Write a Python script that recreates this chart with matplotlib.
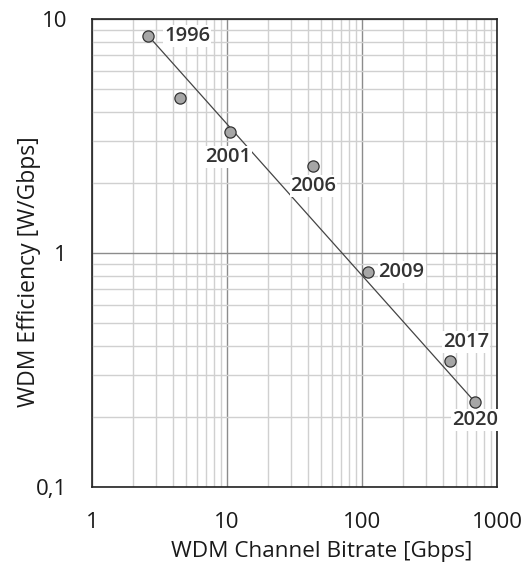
import matplotlib
matplotlib.use('Agg')
import matplotlib.pyplot as plt
from matplotlib.ticker import FixedLocator, FixedFormatter, LogLocator, NullFormatter

plt.rcParams['font.family'] = ['Open Sans', 'DejaVu Sans']

# data
bitrate = [2.6, 4.5, 10.5, 43, 110, 450, 690]
efficiency = [8.5, 4.6, 3.3, 2.36, 0.83, 0.345, 0.23]
years = ['1996', '', '2001', '2006', '2009', '2017', '2020']
# label offsets in pixels (dx, dy) and alignment
label_pos = [(16, 0, 'left'), None, (-2, -25, 'center'),
             (1, -20, 'center'), (11, 0, 'left'),
             (16, 19, 'center'), (0, -18, 'center')]

x_ticks = [1, 10, 100, 1000]
x_labels = ['1', '10', '100', '1000']
y_ticks = [0.1, 1, 10]
y_labels = ['0,1', '1', '10']

fig = plt.figure(figsize=(5.31, 5.64), dpi=100)
ax = fig.add_axes([92 / 531, 1 - 487 / 564, 405 / 531, 468 / 564])

ax.set_xscale('log')
ax.set_yscale('log')
ax.set_xlim(1, 1000)
ax.set_ylim(0.1, 10)

# trend line from first to last point
ax.plot([bitrate[0], bitrate[-1]], [efficiency[0], efficiency[-1]],
        color='#444444', lw=0.9, zorder=3)
ax.scatter(bitrate, efficiency, s=65, color='#a6a6a6', edgecolor='#333333',
           linewidth=0.9, zorder=4)

for x, y, t, p in zip(bitrate, efficiency, years, label_pos):
    if p is None:
        continue
    dx, dy, ha = p
    ax.annotate(t, (x, y), xytext=(dx, dy), textcoords='offset pixels',
                ha=ha, va='center', fontsize=14.5, fontweight='semibold', color='#333333',
                bbox=dict(boxstyle='square,pad=0.05', fc='white', ec='none'),
                zorder=5)

ax.xaxis.set_major_locator(FixedLocator(x_ticks))
ax.xaxis.set_major_formatter(FixedFormatter(x_labels))
ax.yaxis.set_major_locator(FixedLocator(y_ticks))
ax.yaxis.set_major_formatter(FixedFormatter(y_labels))
ax.xaxis.set_minor_locator(LogLocator(base=10, subs=range(2, 10)))
ax.yaxis.set_minor_locator(LogLocator(base=10, subs=range(2, 10)))
ax.xaxis.set_minor_formatter(NullFormatter())
ax.yaxis.set_minor_formatter(NullFormatter())

ax.grid(True, which='major', color='#8c8c8c', lw=1.0)
ax.grid(True, which='minor', color='#d0d0d0', lw=1.0)
ax.set_axisbelow(True)

ax.tick_params(which='both', length=0, labelsize=16, colors='#1a1a1a', pad=18)
for s in ax.spines.values():
    s.set_color('#222222')
    s.set_linewidth(1.2)

ax.set_xlabel('WDM Channel Bitrate [Gbps]', fontsize=16.2, color='#1a1a1a', va='center')
ax.set_ylabel('WDM Efficiency [W/Gbps]', fontsize=16.5, color='#1a1a1a', va='center')
ax.xaxis.set_label_coords((322 - 92) / 405, (487 - 552) / 468)
ax.yaxis.set_label_coords((29 - 92) / 405, (487 - 272) / 468)

fig.savefig('out.png', dpi=100)
